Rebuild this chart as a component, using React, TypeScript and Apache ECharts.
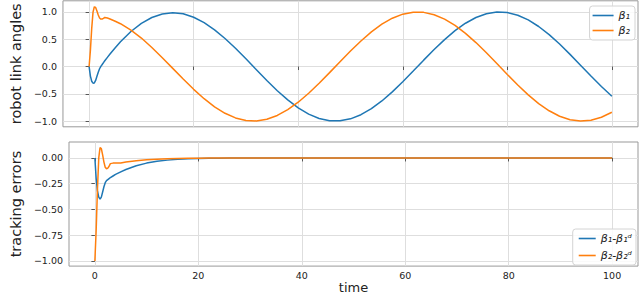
import React, { useEffect, useRef } from "react";
import * as echarts from "echarts";

const time = [0, 0.25, 0.5, 0.75, 1, 1.25, 1.5, 1.75, 2, 2.25, 2.5, 2.75, 3, 3.5, 4, 5, 6, 8, 10, 12, 14, 16, 18, 20,
  22, 24, 26, 28, 30, 32, 34, 36, 38, 40, 42, 44, 46, 48, 50, 52, 54, 56, 58, 60,
  62, 64, 66, 68, 70, 72, 74, 76, 78, 80, 82, 84, 86, 88, 90, 92, 94, 96, 98, 100];

const beta1 = [0, -0.175, -0.27, -0.305, -0.3, -0.255, -0.18, -0.106, -0.041, 0.003, 0.037, 0.072, 0.106, 0.168, 0.229, 0.344, 0.453, 0.642, 0.791, 0.899, 0.964, 0.987, 0.966, 0.904,
  0.805, 0.673, 0.514, 0.335, 0.141, -0.058, -0.256, -0.443, -0.612, -0.757, -0.872, -0.952, -0.994, -0.996, -0.959, -0.883, -0.773, -0.631, -0.465, -0.279,
  -0.083, 0.117, 0.312, 0.494, 0.657, 0.794, 0.899, 0.968, 0.999, 0.989, 0.941, 0.855, 0.734, 0.585, 0.412, 0.223, 0.025, -0.174, -0.366, -0.544];

const beta2 = [0, 0.3, 0.699, 0.997, 1.095, 1.082, 1.019, 0.945, 0.89, 0.87, 0.871, 0.882, 0.9, 0.889, 0.871, 0.83, 0.785, 0.669, 0.522, 0.35, 0.162, -0.034, -0.23, -0.418,
  -0.59, -0.738, -0.857, -0.942, -0.99, -0.998, -0.967, -0.897, -0.791, -0.654, -0.49, -0.307, -0.112, 0.087, 0.284, 0.469, 0.635, 0.776, 0.886, 0.96,
  0.997, 0.993, 0.95, 0.869, 0.754, 0.608, 0.439, 0.251, 0.054, -0.146, -0.339, -0.519, -0.679, -0.811, -0.911, -0.975, -1.0, -0.985, -0.93, -0.839];

const err1 = [0, -0.2, -0.32, -0.38, -0.4, -0.38, -0.33, -0.28, -0.24, -0.22, -0.21, -0.2, -0.19, -0.175, -0.16, -0.135, -0.112, -0.075, -0.05, -0.033, -0.021, -0.013, -0.008, -0.005,
  -0.003, -0.002, -0.001, 0, 0, 0, 0, 0, 0, 0, 0, 0, 0, 0, 0, 0, 0, 0, 0, 0,
  0, 0, 0, 0, 0, 0, 0, 0, 0, 0, 0, 0, 0, 0, 0, 0, 0, 0, 0, 0];

const err2 = [-1.0, -0.7, -0.3, 0.0, 0.1, 0.09, 0.03, -0.04, -0.09, -0.105, -0.098, -0.08, -0.055, -0.05, -0.05, -0.048, -0.04, -0.028, -0.018, -0.012, -0.008, -0.005, -0.003, -0.002,
  -0.001, -0.001, 0, 0, 0, 0, 0, 0, 0, 0, 0, 0, 0, 0, 0, 0, 0, 0, 0, 0,
  0, 0, 0, 0, 0, 0, 0, 0, 0, 0, 0, 0, 0, 0, 0, 0, 0, 0, 0, 0];

const xTicks = [0, 20, 40, 60, 80, 100];
const yTicksTop = [-1, -0.5, 0, 0.5, 1];
const yTicksBottom = [-1, -0.75, -0.5, -0.25, 0];

const names = ["β₁", "β₂", "β₁-β₁ᵈ", "β₂-β₂ᵈ"];
const BLUE = "#1f77b4";
const ORANGE = "#ff7f0e";
const FONT = "DejaVu Sans";

const pairs = (ys: number[]) => time.map((t, i) => [t, ys[i]]);
const minus = (s: string) => s.replace("-", "\u2212");

export default function App() {
  const ref = useRef<HTMLDivElement>(null);
  useEffect(() => {
    if (!ref.current) return;
    const chart = echarts.init(ref.current, undefined, { renderer: "svg" });
    const gridLine = { show: true, lineStyle: { color: "#dedede", width: 1 } };
    const tick = { show: true, length: 3.5, lineStyle: { color: "#333", width: 0.8 } };
    const label = { color: "#222", fontSize: 9.5, fontFamily: FONT };
    const legendBase = {
      orient: "vertical" as const,
      backgroundColor: "rgba(255,255,255,0.85)",
      borderColor: "#d4d4d4",
      borderWidth: 1,
      borderRadius: 3,
      icon: "rect",
      textStyle: { fontSize: 11, fontFamily: FONT, fontStyle: "italic", color: "#222" },
      itemHeight: 1.6,
    };
    chart.setOption({
      animation: false,
      textStyle: { fontFamily: FONT },
      grid: [
        { left: 48, top: 0.8, width: 590, height: 126, show: true, borderColor: "#999", borderWidth: 1 },
        { left: 48, top: 142, width: 590, height: 125.8, show: true, borderColor: "#999", borderWidth: 1 },
      ],
      xAxis: [0, 1].map((g) => ({
        type: "value",
        gridIndex: g,
        min: -5,
        max: 105,
        axisLine: { show: false },
        axisTick: { ...tick, customValues: xTicks },
        axisLabel: { ...label, show: g === 1, margin: 4, customValues: xTicks, formatter: (v: number) => String(v) },
        splitLine: gridLine,
        name: g === 1 ? "time" : "",
        nameLocation: "middle",
        nameGap: 14,
        nameTextStyle: { fontSize: 13, color: "#222", fontFamily: FONT },
      })),
      yAxis: [
        {
          type: "value",
          gridIndex: 0,
          min: -1.105,
          max: 1.205,
          axisLine: { show: false },
          axisTick: { ...tick, customValues: yTicksTop },
          axisLabel: { ...label, margin: 6, customValues: yTicksTop, formatter: (v: number) => minus(v.toFixed(1)) },
          splitLine: gridLine,
          name: "robot link angles",
          nameLocation: "middle",
          nameGap: 33,
          nameTextStyle: { fontSize: 14.5, color: "#222", fontFamily: FONT },
        },
        {
          type: "value",
          gridIndex: 1,
          min: -1.05,
          max: 0.155,
          axisLine: { show: false },
          axisTick: { ...tick, customValues: yTicksBottom },
          axisLabel: { ...label, margin: 6, customValues: yTicksBottom, formatter: (v: number) => minus(v.toFixed(2)) },
          splitLine: gridLine,
          name: "tracking errors",
          nameLocation: "middle",
          nameGap: 33,
          nameTextStyle: { fontSize: 14.5, color: "#222", fontFamily: FONT },
        },
      ],
      legend: [
        { ...legendBase, data: [names[0], names[1]], right: 5, top: 6, itemWidth: 21, itemGap: 4, padding: [4, 5, 4, 3] },
        { ...legendBase, data: [names[2], names[3]], right: 4, top: 229, itemWidth: 17, itemGap: 6, padding: [4, 4, 4, 6] },
      ],
      series: [
        { name: names[0], type: "line", xAxisIndex: 0, yAxisIndex: 0, data: pairs(beta1), symbol: "none", color: BLUE, lineStyle: { width: 1.5, color: BLUE } },
        { name: names[1], type: "line", xAxisIndex: 0, yAxisIndex: 0, data: pairs(beta2), symbol: "none", color: ORANGE, lineStyle: { width: 1.5, color: ORANGE } },
        { name: names[2], type: "line", xAxisIndex: 1, yAxisIndex: 1, data: pairs(err1), symbol: "none", color: BLUE, lineStyle: { width: 1.5, color: BLUE } },
        { name: names[3], type: "line", xAxisIndex: 1, yAxisIndex: 1, data: pairs(err2), symbol: "none", color: ORANGE, lineStyle: { width: 1.5, color: ORANGE } },
      ],
    });
    return () => chart.dispose();
  }, []);
  return <div ref={ref} style={{ position: "absolute", left: 0, top: 0, width: 640, height: 295 }} />;
}
